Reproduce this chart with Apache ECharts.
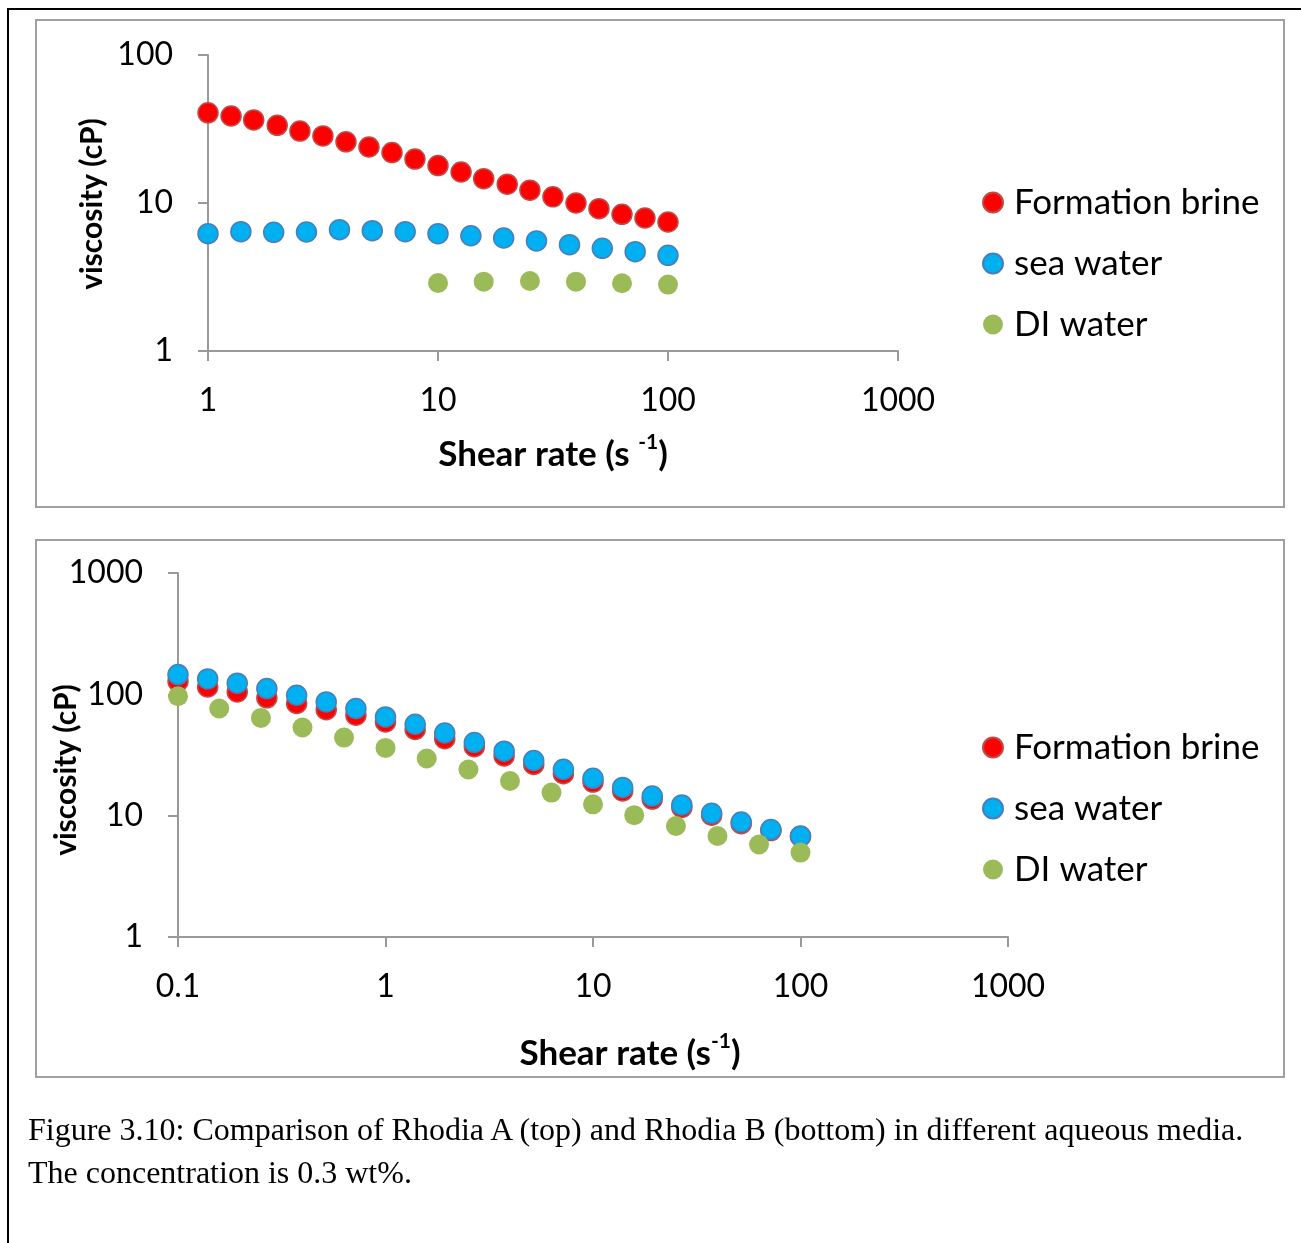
<!DOCTYPE html>
<html>
<head>
<meta charset="utf-8">
<script src="https://cdn.jsdelivr.net/npm/echarts@6/dist/echarts.min.js"></script>
<style>
  html, body { margin: 0; padding: 0; background: #fff; }
  body { width: 1301px; height: 1243px; position: relative; overflow: hidden; }
  #chart { position: absolute; left: 0; top: 0; width: 1301px; height: 1243px; }
  .frameTop { position: absolute; left: 7px; top: 8px; width: 1294px; height: 2px; background: #000; }
  .frameLeft { position: absolute; left: 7px; top: 8px; width: 2px; height: 1235px; background: #000; }
  #caption { position: absolute; left: 28px; top: 1108px; width: 1270px;
             font-family: "Liberation Serif", "Times New Roman", serif; font-size: 32px;
             line-height: 43px; color: #000; white-space: nowrap; }
</style>
</head>
<body>
<div class="frameTop"></div>
<div class="frameLeft"></div>
<div id="chart"></div>
<div id="caption">Figure 3.10: Comparison of Rhodia A (top) and Rhodia B (bottom) in different aqueous media.<br>The concentration is 0.3 wt%.</div>
<script>
// ---------- Data: Rhodia A (top) ----------
const seriesNames = ['Formation brine', 'sea water', 'DI water'];

const topBrineX = [1, 1.26, 1.58, 2, 2.51, 3.16, 3.98, 5.01, 6.31, 7.94, 10, 12.6, 15.8, 20, 25.1, 31.6, 39.8, 50.1, 63.1, 79.4, 100];
const topBrineY = [40.7, 38.7, 36.4, 33.5, 30.6, 28.4, 25.9, 23.9, 21.9, 19.8, 17.9, 16.2, 14.6, 13.4, 12.2, 11.0, 10.0, 9.15, 8.39, 7.92, 7.44];

const topSeaX = [1, 1.39, 1.93, 2.68, 3.73, 5.18, 7.20, 10, 13.9, 19.3, 26.8, 37.3, 51.8, 72.0, 100];
const topSeaY = [6.2, 6.4, 6.34, 6.37, 6.6, 6.5, 6.4, 6.2, 6.01, 5.8, 5.54, 5.23, 4.94, 4.69, 4.43];

const topDIX = [10, 15.8, 25.1, 39.8, 63.1, 100];
const topDIY = [2.88, 2.94, 2.97, 2.94, 2.87, 2.81];

// ---------- Data: Rhodia B (bottom) ----------
const botBrineX = [0.1, 0.139, 0.193, 0.268, 0.373, 0.518, 0.720, 1, 1.39, 1.93, 2.68, 3.73, 5.18, 7.20, 10, 13.9, 19.3, 26.8, 37.3, 51.8, 72.0, 100];
const botBrineY = [128, 115, 104.7, 93.6, 84, 74.8, 67.3, 59.2, 51.3, 43.1, 37.0, 31.1, 26.4, 22.2, 18.9, 16.0, 13.7, 11.7, 10.1, 8.59, 7.54, 6.74];

const botSeaX = [0.1, 0.139, 0.193, 0.268, 0.373, 0.518, 0.720, 1, 1.39, 1.93, 2.68, 3.73, 5.18, 7.20, 10, 13.9, 19.3, 26.8, 37.3, 51.8, 72.0, 100];
const botSeaY = [145.6, 134, 123.5, 111.6, 98.3, 86.5, 76.4, 65.1, 56.7, 48.0, 40.1, 34.0, 28.5, 24.1, 20.3, 17.1, 14.5, 12.25, 10.46, 8.87, 7.68, 6.80];

const botDIX = [0.1, 0.158, 0.251, 0.398, 0.631, 1, 1.58, 2.51, 3.98, 6.31, 10, 15.8, 25.1, 39.8, 63.1, 100];
const botDIY = [96.5, 76.4, 63.9, 53.3, 44.0, 36.2, 29.6, 24.0, 19.3, 15.5, 12.4, 10.1, 8.22, 6.80, 5.78, 4.96];

// tick labels
const topXTicks = ['1', '10', '100', '1000'];
const topYTicks = ['1', '10', '100'];
const botXTicks = ['0.1', '1', '10', '100', '1000'];
const botYTicks = ['1', '10', '100', '1000'];

// ---------- Styles ----------
const styles = [
  { color: '#FF0000', borderColor: '#BE4B48', borderWidth: 1.5, opacity: 1 },
  { color: '#00B0F0', borderColor: '#4A7EBB', borderWidth: 1.5, opacity: 1 },
  { color: '#9BBB59', borderColor: '#9BBB59', borderWidth: 0, opacity: 1 }
];
const axisGray = '#9A9A9A';
const labelFont = 'Lato, "Noto Sans", sans-serif';

function pairs(xs, ys) { return xs.map((x, i) => [x, ys[i]]); }
function fmt(ticks) {
  return function (v) {
    for (const t of ticks) { if (Math.abs(parseFloat(t) - v) / v < 1e-6) return t; }
    return '';
  };
}
function xAxisCfg(grid, min, max, ticks) {
  return {
    type: 'log', logBase: 10, gridIndex: grid, min: min, max: max, interval: 1,
    axisLine: { show: true, lineStyle: { color: axisGray, width: 2 } },
    axisTick: { show: true, inside: false, length: 10, lineStyle: { color: axisGray, width: 2 } },
    splitLine: { show: false }, minorTick: { show: false },
    axisLabel: { margin: 34, formatter: fmt(ticks), color: '#000', fontSize: 32, fontFamily: labelFont }
  };
}
function yAxisCfg(grid, min, max, ticks) {
  return {
    type: 'log', logBase: 10, gridIndex: grid, min: min, max: max, interval: 1,
    axisLine: { show: true, lineStyle: { color: axisGray, width: 2 } },
    axisTick: { show: true, inside: false, length: 10, lineStyle: { color: axisGray, width: 2 } },
    splitLine: { show: false }, minorTick: { show: false },
    axisLabel: { margin: 35, formatter: fmt(ticks), color: '#000', fontSize: 32, fontFamily: labelFont }
  };
}
function scatter(name, idx, grid, data) {
  return {
    name: name, type: 'scatter', xAxisIndex: grid, yAxisIndex: grid,
    symbol: 'circle', symbolSize: 20, data: data, itemStyle: styles[idx],
    emphasis: { disabled: true }, animation: false
  };
}
function legendCfg(top) {
  return {
    data: seriesNames, orient: 'vertical', left: 982, top: top, padding: 0,
    icon: 'circle', itemWidth: 20, itemHeight: 20, itemGap: 26,
    selectedMode: false,
    textStyle: { fontSize: 35, fontFamily: labelFont, color: '#000', padding: [0, 0, 0, 6] }
  };
}
const boldFont = 'bold 30px Lato, "Noto Sans", sans-serif';
const richTitle = {
  n: { fontSize: 35, fontWeight: 'bold', fontFamily: labelFont, lineHeight: 40, verticalAlign: 'bottom' },
  s: { fontSize: 21, fontWeight: 'bold', fontFamily: labelFont, lineHeight: 40, verticalAlign: 'top' }
};

const option = {
  backgroundColor: 'transparent',
  animation: false,
  grid: [
    { left: 208, top: 55, width: 690, height: 296 },
    { left: 178, top: 573, width: 830, height: 364 }
  ],
  xAxis: [xAxisCfg(0, 1, 1000, topXTicks), xAxisCfg(1, 0.1, 1000, botXTicks)],
  yAxis: [yAxisCfg(0, 1, 100, topYTicks), yAxisCfg(1, 1, 1000, botYTicks)],
  legend: [legendCfg(185), legendCfg(730)],
  series: [
    scatter(seriesNames[0], 0, 0, pairs(topBrineX, topBrineY)),
    scatter(seriesNames[1], 1, 0, pairs(topSeaX, topSeaY)),
    scatter(seriesNames[2], 2, 0, pairs(topDIX, topDIY)),
    scatter(seriesNames[0], 0, 1, pairs(botBrineX, botBrineY)),
    scatter(seriesNames[1], 1, 1, pairs(botSeaX, botSeaY)),
    scatter(seriesNames[2], 2, 1, pairs(botDIX, botDIY))
  ],
  graphic: [
    { type: 'rect', z: -10, shape: { x: 36, y: 20, width: 1248, height: 487 }, style: { fill: 'none', stroke: '#A0A0A0', lineWidth: 2 } },
    { type: 'rect', z: -10, shape: { x: 36, y: 540, width: 1248, height: 537 }, style: { fill: 'none', stroke: '#A0A0A0', lineWidth: 2 } },
    { type: 'text', x: 92, y: 204, rotation: Math.PI / 2,
      style: { text: 'viscosity (cP)', font: boldFont, fill: '#000', textAlign: 'center', textVerticalAlign: 'middle' } },
    { type: 'text', x: 66, y: 770, rotation: Math.PI / 2,
      style: { text: 'viscosity (cP)', font: boldFont, fill: '#000', textAlign: 'center', textVerticalAlign: 'middle' } },
    { type: 'text', x: 553, y: 452,
      style: { text: '{n|Shear rate (s }{s|-1}{n|)}', textAlign: 'center', textVerticalAlign: 'middle', fill: '#000', rich: richTitle } },
    { type: 'text', x: 630, y: 1051,
      style: { text: '{n|Shear rate (s}{s|-1}{n|)}', textAlign: 'center', textVerticalAlign: 'middle', fill: '#000', rich: richTitle } }
  ]
};

const chart = echarts.init(document.getElementById('chart'), null, { renderer: 'canvas' });
chart.setOption(option);
</script>
</body>
</html>
